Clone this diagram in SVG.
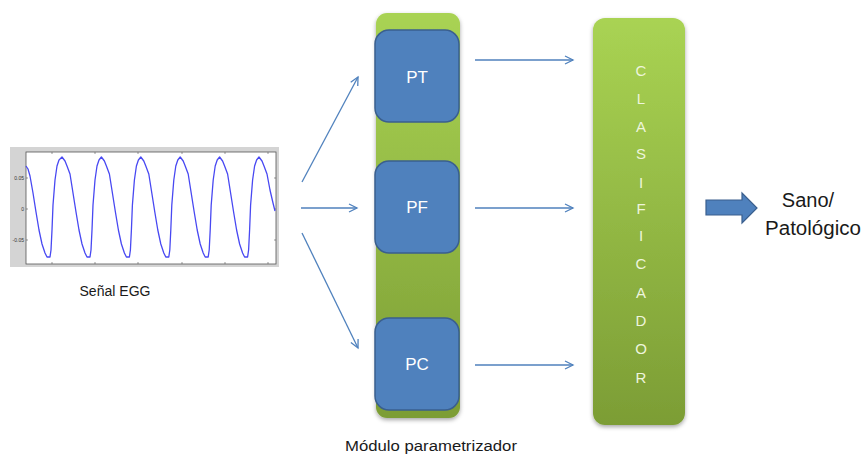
<svg xmlns="http://www.w3.org/2000/svg" width="864" height="455" viewBox="0 0 864 455">
<defs>
<linearGradient id="gGreen" x1="0" y1="0" x2="0" y2="1">
<stop offset="0" stop-color="#a9d353"/>
<stop offset="1" stop-color="#7c9d35"/>
</linearGradient>
<filter id="sh" x="-20%" y="-10%" width="140%" height="120%">
<feDropShadow dx="0" dy="2" stdDeviation="2" flood-color="#000" flood-opacity="0.35"/>
</filter>
<marker id="ah" markerUnits="userSpaceOnUse" markerWidth="12" markerHeight="12" refX="9" refY="5" orient="auto" viewBox="0 0 12 10">
<path d="M1,1 L9,5 L1,9" fill="none" stroke="#4f81bd" stroke-width="1.3"/>
</marker>
</defs>
<style>
.conn{stroke:#4f81bd;stroke-width:1.3;fill:none;marker-end:url(#ah)}
.blue{fill:#4f81bd;stroke:#3a5f8e;stroke-width:1.5}
.bl{font-family:"Liberation Sans",Arial,sans-serif;font-size:17px;fill:#ffffff;text-anchor:middle}
.cl{font-family:"Liberation Sans",Arial,sans-serif;font-size:15px;fill:#eef5dc;text-anchor:middle}
.lab{font-family:"Liberation Sans",Arial,sans-serif;fill:#1a1a1a;text-anchor:middle}
.tick{font-family:"Liberation Sans",Arial,sans-serif;font-size:5px;fill:#333;text-anchor:end}
</style>
<rect width="864" height="455" fill="#ffffff"/>

<g id="egg">
<rect x="10" y="147" width="269" height="120" fill="#d4d4d4"/>
<rect x="26" y="152" width="250" height="112" fill="#ffffff" stroke="#555" stroke-width="0.8"/>
<g stroke="#555" stroke-width="0.6">
<path d="M52,152v2M95,152v2M138,152v2M182,152v2M225,152v2M268,152v2M52,264v-2M95,264v-2M138,264v-2M182,264v-2M225,264v-2M268,264v-2M26,178h2M26,209h2M26,240h2M276,178h-2M276,209h-2M276,240h-2"/>
</g>
<text class="tick" x="24" y="180">0.05</text>
<text class="tick" x="24" y="211">0</text>
<text class="tick" x="24" y="242">-0.05</text>
<polyline fill="none" stroke="#4848f2" stroke-width="1.3" stroke-linejoin="round" points="26,166 28,169 30,176 33,193 36,212 39,230 42,244 45,253 47,257 50,257 51,250 52,230 53,205 55,180 57,166 59,160 62,157 65,161 67,166 70,174 73,193 76,212 79,230 82,244 85,253 87,257 90,257 91,250 92,230 93,205 95,180 97,166 99,160 101.4,157 104.4,161 106.4,166 109.4,174 112.4,193 115.4,212 118.4,230 121.4,244 124.4,253 126.4,257 129.4,257 130.4,250 131.4,230 132.4,205 134.4,180 136.4,166 138.4,160 140.8,157 143.8,161 145.8,166 148.8,174 151.8,193 154.8,212 157.8,230 160.8,244 163.8,253 165.8,257 168.8,257 169.8,250 170.8,230 171.8,205 173.8,180 175.8,166 177.8,160 180.2,157 183.2,161 185.2,166 188.2,174 191.2,193 194.2,212 197.2,230 200.2,244 203.2,253 205.2,257 208.2,257 209.2,250 210.2,230 211.2,205 213.2,180 215.2,166 217.2,160 219.6,157 222.6,161 224.6,166 227.6,174 230.6,193 233.6,212 236.6,230 239.6,244 242.6,253 244.6,257 247.6,257 248.6,250 249.6,230 250.6,205 252.6,180 254.6,166 256.6,160 259,157 262,161 264,166 267,174 270,190 273,203 275,211"/>
<text class="lab" x="115" y="296" font-size="14" textLength="71" lengthAdjust="spacingAndGlyphs">Señal EGG</text>
</g>

<g id="modulo">
<rect x="376" y="13" width="84" height="405" rx="11" fill="url(#gGreen)" filter="url(#sh)"/>
<text class="lab" x="431" y="451" font-size="14" textLength="172" lengthAdjust="spacingAndGlyphs">Módulo parametrizador</text>
</g>
<g id="pt">
<rect class="blue" x="375" y="30" width="84" height="92" rx="14"/>
<text class="bl" x="417" y="83">PT</text>
</g>
<g id="pf">
<rect class="blue" x="375" y="161" width="84" height="92" rx="14"/>
<text class="bl" x="417" y="213">PF</text>
</g>
<g id="pc">
<rect class="blue" x="375" y="318" width="84" height="92" rx="14"/>
<text class="bl" x="417" y="370">PC</text>
</g>

<g id="clasificador">
<rect x="593" y="18" width="92" height="407" rx="12" fill="url(#gGreen)" filter="url(#sh)"/>
<text class="cl" x="641" y="76">C</text>
<text class="cl" x="641" y="104">L</text>
<text class="cl" x="641" y="132">A</text>
<text class="cl" x="641" y="159">S</text>
<text class="cl" x="641" y="188">I</text>
<text class="cl" x="641" y="214">F</text>
<text class="cl" x="641" y="241">I</text>
<text class="cl" x="641" y="269">C</text>
<text class="cl" x="641" y="298">A</text>
<text class="cl" x="641" y="326">D</text>
<text class="cl" x="641" y="354">O</text>
<text class="cl" x="641" y="383">R</text>
</g>

<g id="salida">
<path d="M706,200 H742 V193 L757,208 L742,223 V215 H706 Z" fill="#4f81bd" stroke="#3a5f8e" stroke-width="1.2"/>
<text class="lab" x="808" y="207" font-size="20">Sano/</text>
<text class="lab" x="813" y="235" font-size="20" textLength="96" lengthAdjust="spacingAndGlyphs">Patológico</text>
</g>

<g id="connectors">
<line class="conn" x1="302" y1="182" x2="358" y2="77"/>
<line class="conn" x1="301" y1="208" x2="357" y2="208"/>
<line class="conn" x1="302" y1="233" x2="358" y2="348"/>
<line class="conn" x1="475" y1="60" x2="573" y2="60"/>
<line class="conn" x1="475" y1="208" x2="573" y2="208"/>
<line class="conn" x1="475" y1="365" x2="573" y2="365"/>
</g>
</svg>
